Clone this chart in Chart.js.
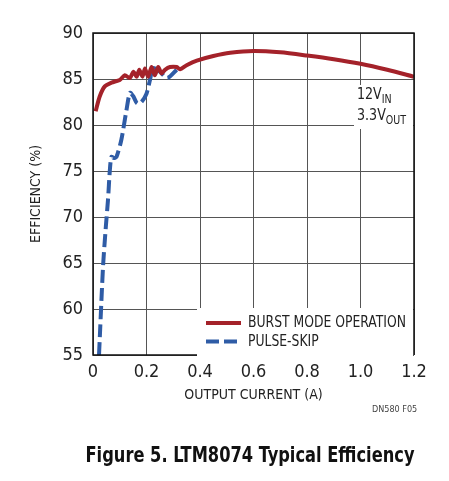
<!DOCTYPE html>
<html>
<head>
<meta charset="utf-8">
<script src="https://cdn.jsdelivr.net/npm/chart.js@4/dist/chart.umd.min.js"></script>
<style>
  body { margin: 0; background: #fff; overflow: hidden; }
  #wrap { position: relative; width: 449px; height: 481px; }
  #fig { position: absolute; left: 250px; top: 443px; white-space: nowrap; transform: translateX(-50%) scaleX(0.86);
         font: bold 21px "DejaVu Sans Condensed", "Liberation Sans Narrow", sans-serif; color: #111; }
  #dn { position: absolute; left: 372px; top: 404px; font: 9px "DejaVu Sans Condensed", sans-serif; color: #444; }
</style>
</head>
<body>
<div id="wrap">
  <canvas id="eff" width="449" height="481"></canvas>
  <div id="dn">DN580 F05</div>
  <div id="fig">Figure 5. LTM8074 Typical Efficiency</div>
</div>
<script>
// Data
const burstX = [0.01, 0.025, 0.044, 0.069, 0.1, 0.119, 0.138, 0.151, 0.163, 0.173, 0.185, 0.194, 0.206, 0.219, 0.231, 0.244, 0.256, 0.269, 0.288, 0.313, 0.325, 0.35, 0.388, 0.45, 0.513, 0.6, 0.7, 0.8, 0.9, 1.0, 1.1, 1.2];
const burstY = [81.5, 83.1, 84.2, 84.6, 84.9, 85.4, 85.1, 85.8, 85.25, 86.0, 85.25, 86.15, 85.25, 86.3, 85.4, 86.3, 85.6, 86.0, 86.3, 86.3, 86.05, 86.5, 87.0, 87.5, 87.85, 88.05, 87.9, 87.55, 87.15, 86.65, 86.0, 85.25];
const skipX = [0.0225, 0.0375, 0.048, 0.056, 0.063, 0.069, 0.078, 0.088, 0.106, 0.125, 0.138, 0.151, 0.165, 0.181, 0.2, 0.213, 0.225, 0.25, 0.278, 0.313];
const skipY = [55, 64.6, 68.95, 71.85, 75.1, 76.55, 76.4, 76.55, 78.4, 81.6, 83.5, 83.1, 82.35, 82.5, 83.4, 84.9, 86.2, 85.8, 85.1, 86.0];
const seriesNames = ["BURST MODE OPERATION", "PULSE-SKIP"];
const xTickLabels = ["0", "0.2", "0.4", "0.6", "0.8", "1.0", "1.2"];
const yTickLabels = ["55", "60", "65", "70", "75", "80", "85", "90"];

const RED = "#a4222a";
const BLUE = "#2f5ca6";
const FONT = "'DejaVu Sans Condensed', 'Liberation Sans Narrow', sans-serif";

const pts = (xs, ys) => xs.map((x, i) => ({ x: x, y: ys[i] }));

// narrowed canvas text, the figure uses a condensed face
function narrowText(ctx, txt, x, y, size, sx) {
  ctx.save();
  ctx.translate(x, y);
  ctx.scale(sx, 1);
  ctx.font = size + "px " + FONT;
  ctx.fillText(txt, 0, 0);
  const w = ctx.measureText(txt).width * sx;
  ctx.restore();
  return w;
}

// border, legend box and the 12VIN/3.3VOUT note
const extras = {
  id: "extras",
  afterDatasetsDraw(chart) {
    const { ctx, chartArea: a } = chart;
    ctx.save();
    // legend box
    const lx = 197, ly = 308;
    ctx.fillStyle = "#fff";
    ctx.fillRect(lx, ly, a.right - lx - 1, a.bottom - ly + 3);
    chart.data.datasets.forEach((ds, i) => {
      const y = 323 + i * 18.5;
      ctx.strokeStyle = ds.borderColor;
      ctx.lineWidth = 4;
      ctx.setLineDash(ds.borderDash || []);
      ctx.beginPath();
      ctx.moveTo(206, y);
      ctx.lineTo(241, y);
      ctx.stroke();
      ctx.setLineDash([]);
      ctx.fillStyle = "#222";
      ctx.textBaseline = "middle";
      narrowText(ctx, ds.label, 248, y, 16, 0.86);
    });
    // note box
    ctx.fillStyle = "#fff";
    ctx.fillRect(354, 85, a.right - 355, 44);
    ctx.fillStyle = "#222";
    ctx.textBaseline = "alphabetic";
    let w = narrowText(ctx, "12V", 357, 99, 16, 0.88);
    narrowText(ctx, "IN", 357 + w, 103, 12, 0.88);
    w = narrowText(ctx, "3.3V", 357, 120, 16, 0.88);
    narrowText(ctx, "OUT", 357 + w, 124, 12, 0.88);
    // frame
    ctx.strokeStyle = "#111";
    ctx.lineWidth = 1.5;
    ctx.beginPath();
    ctx.moveTo(lx, a.bottom);
    ctx.lineTo(a.left, a.bottom);
    ctx.lineTo(a.left, a.top);
    ctx.lineTo(a.right, a.top);
    ctx.lineTo(a.right, a.bottom);
    ctx.stroke();
    ctx.restore();
  }
};

new Chart(document.getElementById("eff"), {
  type: "scatter",
  data: {
    datasets: [
      {
        label: seriesNames[0],
        data: pts(burstX, burstY),
        showLine: true,
        borderColor: RED,
        borderWidth: 4,
        pointRadius: 0,
        tension: 0.25
      },
      {
        label: seriesNames[1],
        data: pts(skipX, skipY),
        showLine: true,
        borderColor: BLUE,
        borderWidth: 4,
        borderDash: [13, 5],
        pointRadius: 0,
        tension: 0.25
      }
    ]
  },
  options: {
    responsive: false,
    animation: false,
    layout: { padding: { left: 0, top: 33, right: 35, bottom: 0 } },
    plugins: { legend: { display: false }, tooltip: { enabled: false } },
    scales: {
      x: {
        type: "linear",
        min: 0,
        max: 1.2,
        afterFit: s => { s.height = 126; },
        ticks: {
          stepSize: 0.2,
          padding: 7,
          color: "#222",
          font: { family: FONT, size: 18 },
          callback: (v, i) => xTickLabels[i]
        },
        grid: { color: "#555", lineWidth: 1, drawTicks: false },
        border: { display: false },
        title: {
          display: true,
          text: "OUTPUT CURRENT (A)",
          color: "#222",
          font: { family: FONT, size: 14 },
          padding: { bottom: 77 }
        }
      },
      y: {
        min: 55,
        max: 90,
        afterFit: s => { s.width = 93; },
        ticks: {
          stepSize: 5,
          padding: 10,
          color: "#222",
          font: { family: FONT, size: 18 },
          callback: (v, i) => yTickLabels[i]
        },
        grid: { color: "#555", lineWidth: 1, drawTicks: false },
        border: { display: false },
        title: {
          display: true,
          text: "EFFICIENCY (%)",
          color: "#222",
          font: { family: FONT, size: 14 },
          padding: { top: 28 }
        }
      }
    }
  },
  plugins: [extras]
});
</script>
</body>
</html>
